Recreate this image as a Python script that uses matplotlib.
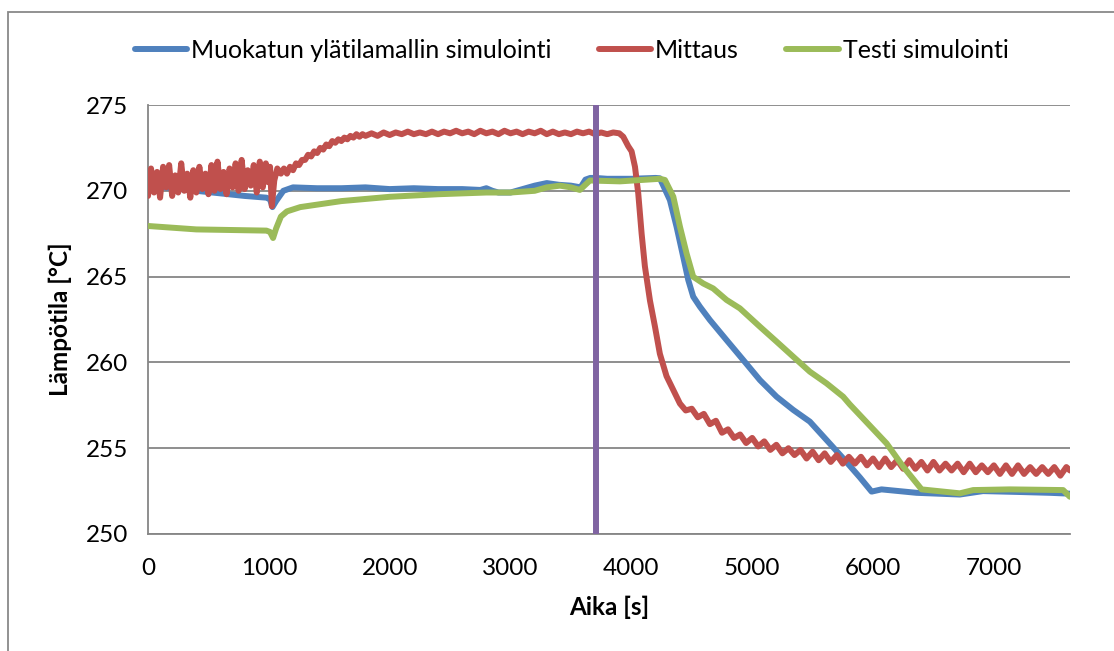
import matplotlib
matplotlib.use("Agg")
import matplotlib.pyplot as plt
from matplotlib.patches import Rectangle

plt.rcParams["font.family"] = ["Lato", "DejaVu Sans"]

# Muokatun ylätilamallin simulointi (blue)
blue_t = [0, 200, 400, 600, 800, 980, 1010, 1030, 1060, 1120, 1200, 1400, 1600, 1800,
          2000, 2200, 2400, 2600, 2750, 2800, 2850, 2900, 3000, 3100, 3200, 3300, 3400,
          3500, 3580, 3620, 3660, 3700, 3800, 4000, 4200, 4236, 4319, 4374, 4429, 4471,
          4512, 4567, 4650, 4788, 4926, 5064, 5202, 5340, 5477, 5615, 5753, 5891, 5988,
          6070, 6360, 6718, 6910, 7200, 7463, 7629]
blue_y = [270.3, 270.15, 270.0, 269.85, 269.7, 269.6, 269.5, 269.05, 269.4, 270.0, 270.2,
          270.15, 270.15, 270.2, 270.1, 270.15, 270.1, 270.1, 270.05, 270.15, 270.0, 269.9,
          269.9, 270.1, 270.3, 270.45, 270.35, 270.3, 270.2, 270.65, 270.75, 270.75, 270.7,
          270.7, 270.75, 270.73, 269.46, 267.91, 266.16, 264.8, 263.83, 263.25, 262.47,
          261.3, 260.14, 258.97, 258.0, 257.23, 256.55, 255.48, 254.41, 253.3, 252.47,
          252.6, 252.4, 252.3, 252.5, 252.45, 252.4, 252.35]

# Mittaus (red), (time, temperature) pairs
red_pts = [
    (0, 269.7), (25, 271.3), (50, 269.9), (75, 271.1), (100, 269.6), (125, 271.4),
    (150, 270.2), (175, 271.5), (200, 269.7), (225, 270.9), (250, 269.9), (275, 271.6),
    (300, 270.0), (325, 271.0), (350, 269.6), (375, 271.2), (400, 269.9), (425, 271.4),
    (450, 270.1), (475, 271.0), (500, 269.8), (525, 271.5), (550, 270.0), (575, 271.7),
    (600, 270.1), (625, 271.1), (650, 269.8), (675, 271.3), (700, 270.2), (725, 271.6),
    (750, 270.0), (775, 271.8), (800, 270.1), (825, 271.2), (850, 270.3), (875, 271.5),
    (900, 269.9), (925, 271.7), (950, 270.2), (975, 271.6), (995, 270.5), (1010, 271.4),
    (1025, 269.1), (1045, 270.6), (1070, 271.3), (1100, 271.0), (1125, 271.3),
    (1150, 271.0), (1175, 271.4), (1200, 271.2), (1225, 271.6), (1250, 271.5),
    (1275, 271.8), (1300, 271.8), (1325, 272.1), (1350, 272.0), (1375, 272.3),
    (1400, 272.2), (1425, 272.5), (1450, 272.4), (1475, 272.7), (1500, 272.6),
    (1525, 272.9), (1550, 272.8), (1575, 273.0), (1600, 272.9), (1625, 273.1),
    (1650, 273.0), (1675, 273.2), (1700, 273.1), (1725, 273.3), (1750, 273.15),
    (1775, 273.3), (1800, 273.2), (1850, 273.35), (1900, 273.2), (1950, 273.4),
    (2000, 273.25), (2050, 273.4), (2100, 273.3), (2150, 273.45), (2200, 273.3),
    (2250, 273.4), (2300, 273.3), (2350, 273.45), (2400, 273.3), (2450, 273.45),
    (2500, 273.35), (2550, 273.5), (2600, 273.35), (2650, 273.45), (2700, 273.3),
    (2750, 273.5), (2800, 273.35), (2850, 273.45), (2900, 273.3), (2950, 273.5),
    (3000, 273.35), (3050, 273.45), (3100, 273.3), (3150, 273.45), (3200, 273.35),
    (3250, 273.5), (3300, 273.3), (3350, 273.45), (3400, 273.3), (3450, 273.4),
    (3500, 273.3), (3550, 273.45), (3600, 273.35), (3650, 273.45), (3700, 273.3),
    (3750, 273.4), (3800, 273.3), (3850, 273.4), (3900, 273.35), (3933, 273.15),
    (3974, 272.6), (4002, 272.3), (4030, 271.4), (4057, 269.85), (4085, 267.5),
    (4112, 265.6), (4154, 263.6), (4195, 262.1), (4236, 260.5), (4291, 259.2),
    (4347, 258.4), (4402, 257.6), (4450, 257.2), (4500, 257.3), (4550, 256.8),
    (4600, 257.0), (4650, 256.4), (4700, 256.6), (4750, 255.9), (4800, 256.1),
    (4850, 255.6), (4900, 255.8), (4950, 255.3), (5000, 255.6), (5050, 255.1),
    (5100, 255.4), (5150, 254.9), (5200, 255.2), (5250, 254.7), (5300, 255.0),
    (5350, 254.6), (5400, 254.9), (5450, 254.4), (5500, 254.8), (5550, 254.3),
    (5600, 254.7), (5650, 254.2), (5700, 254.6), (5750, 254.1), (5800, 254.5),
    (5850, 254.1), (5900, 254.5), (5950, 254.0), (6000, 254.4), (6050, 253.9),
    (6100, 254.4), (6150, 253.9), (6200, 254.3), (6250, 253.8), (6300, 254.3),
    (6350, 253.8), (6400, 254.2), (6450, 253.7), (6500, 254.2), (6550, 253.7),
    (6600, 254.1), (6650, 253.7), (6700, 254.1), (6750, 253.6), (6800, 254.1),
    (6850, 253.6), (6900, 254.0), (6950, 253.6), (7000, 254.0), (7050, 253.5),
    (7100, 254.0), (7150, 253.5), (7200, 254.0), (7250, 253.5), (7300, 253.9),
    (7350, 253.5), (7400, 253.9), (7450, 253.5), (7500, 253.9), (7550, 253.4),
    (7600, 253.9), (7630, 253.7),
]
red_t = [p[0] for p in red_pts]
red_y = [p[1] for p in red_pts]

# Testi simulointi (green)
green_t = [0, 400, 980, 1010, 1035, 1060, 1100, 1150, 1260, 1600, 2000, 2400, 2800, 3000,
           3200, 3300, 3409, 3500, 3574, 3657, 3905, 4236, 4278, 4347, 4402, 4457, 4512,
           4595, 4677, 4788, 4898, 5064, 5202, 5340, 5477, 5615, 5753, 5808, 6112, 6250,
           6402, 6718, 6829, 7132, 7573, 7629]
green_y = [267.95, 267.75, 267.68, 267.6, 267.25, 267.8, 268.5, 268.8, 269.05, 269.4,
           269.65, 269.8, 269.9, 269.9, 270.0, 270.2, 270.3, 270.2, 270.05, 270.6, 270.55,
           270.7, 270.63, 269.66, 267.91, 266.35, 264.99, 264.6, 264.31, 263.64, 263.15,
           262.08, 261.21, 260.33, 259.46, 258.78, 258.0, 257.55, 255.28, 253.92, 252.6,
           252.37, 252.56, 252.6, 252.56, 252.17]

# vertical marker line
mark_t = [3710, 3710]
mark_y = [250, 275]

x_ticks = [0, 1000, 2000, 3000, 4000, 5000, 6000, 7000]
y_ticks = [250, 255, 260, 265, 270, 275]

fig = plt.figure(figsize=(11.14, 6.51), dpi=100)
ax = fig.add_axes([148 / 1114, 117 / 651, 922 / 1114, 429 / 651])

lw = 4.3
l1, = ax.plot(blue_t, blue_y, color="#4F81BD", lw=lw, solid_capstyle="round",
              solid_joinstyle="round", label="Muokatun ylätilamallin simulointi", zorder=3)
l2, = ax.plot(red_t, red_y, color="#C0504D", lw=lw, solid_capstyle="round",
              solid_joinstyle="round", label="Mittaus", zorder=4)
l3, = ax.plot(green_t, green_y, color="#9BBB59", lw=lw, solid_capstyle="round",
              solid_joinstyle="round", label="Testi simulointi", zorder=5)
ax.plot(mark_t, mark_y, color="#8064A2", lw=lw, zorder=6, solid_capstyle="butt")

ax.set_xlim(0, 7630)
ax.set_ylim(250, 275)
ax.set_xticks(x_ticks)
ax.set_yticks(y_ticks)
ax.tick_params(length=0, labelsize=17.5)
ax.tick_params(axis="x", pad=17)
ax.tick_params(axis="y", pad=14)
ax.grid(axis="y", color="#868686", lw=1.3)
ax.set_axisbelow(True)
for s in ["top", "right"]:
    ax.spines[s].set_visible(False)
ax.spines["left"].set_color("#868686")
ax.spines["bottom"].set_color("#868686")
ax.spines["left"].set_linewidth(1.3)
ax.spines["bottom"].set_linewidth(1.3)

ax.set_xlabel("Aika [s]", fontsize=17.5, fontweight="bold", labelpad=12)
ax.set_ylabel("Lämpötila [°C]", fontsize=17.5, fontweight="bold", labelpad=10)

fig.legend(handles=[l1, l2, l3], loc="center", bbox_to_anchor=(0.513, 1 - 50 / 651),
           ncol=3, frameon=False, fontsize=18, handlelength=2.1, handletextpad=0.15,
           columnspacing=1.9)

# chart border (only left and top edges visible)
fig.patches.append(Rectangle((8 / 1114, -0.1), 1.2, (651 - 12) / 651 + 0.1,
                             transform=fig.transFigure, fill=False,
                             edgecolor="#898989", lw=1.3))

fig.savefig("out.png", dpi=100)
